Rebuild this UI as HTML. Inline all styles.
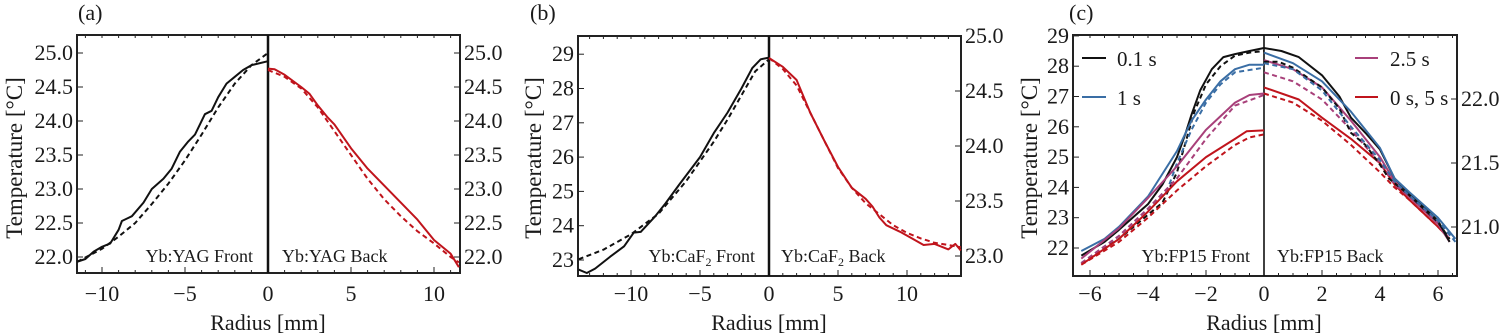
<!DOCTYPE html>
<html><head><meta charset="utf-8"><style>
html,body{margin:0;padding:0;background:#fff;width:1506px;height:335px;overflow:hidden}
svg{display:block}
text{font-family:"Liberation Serif",serif;fill:#1a1a1a}
</style></head><body>
<svg id="s" width="1506" height="335" viewBox="0 0 1506 335" xmlns="http://www.w3.org/2000/svg">
<g font-size="22">
<text x="78" y="20" font-size="22">(a)</text>
<text x="530" y="20" font-size="22">(b)</text>
<text x="1069" y="20" font-size="22">(c)</text>
<text transform="translate(22,158) rotate(-90)" text-anchor="middle" font-size="23">Temperature [°C]</text>
<text transform="translate(541,158) rotate(-90)" text-anchor="middle" font-size="23">Temperature [°C]</text>
<text transform="translate(1037,158) rotate(-90)" text-anchor="middle" font-size="23">Temperature [°C]</text>
<text x="268" y="330" text-anchor="middle">Radius [mm]</text>
<text x="769" y="330" text-anchor="middle">Radius [mm]</text>
<text x="1264" y="330" text-anchor="middle">Radius [mm]</text>
</g>
<g font-size="18">
<text x="253" y="262" text-anchor="end">Yb:YAG Front</text>
<text x="282" y="262">Yb:YAG Back</text>
<text x="755" y="262" text-anchor="end">Yb:CaF<tspan font-size="12" dy="4">2</tspan><tspan dy="-4"> Front</tspan></text>
<text x="781" y="262">Yb:CaF<tspan font-size="12" dy="4">2</tspan><tspan dy="-4"> Back</tspan></text>
<text x="1250" y="262" text-anchor="end">Yb:FP15 Front</text>
<text x="1277" y="262">Yb:FP15 Back</text>
</g>
<g font-size="21">
<line x1="1082" y1="58" x2="1106" y2="58" stroke="#111" stroke-width="2"/><text x="1117" y="66">0.1 s</text>
<line x1="1082" y1="97" x2="1106" y2="97" stroke="#3a6ea5" stroke-width="2"/><text x="1117" y="105">1 s</text>
<line x1="1355" y1="58" x2="1378" y2="58" stroke="#a8407a" stroke-width="2"/><text x="1390" y="66">2.5 s</text>
<line x1="1355" y1="97" x2="1378" y2="97" stroke="#c0141c" stroke-width="2"/><text x="1390" y="105">0 s, 5 s</text>
</g>
<g id="dyn"></g>
</svg>
<script>
var NS="http://www.w3.org/2000/svg",g=document.getElementById("dyn");
function el(t,a){var e=document.createElementNS(NS,t);for(var k in a)e.setAttribute(k,a[k]);g.appendChild(e);return e;}
function txt(x,y,s,anc){var e=el("text",{x:x,y:y,"font-size":22,"text-anchor":anc||"middle"});e.textContent=s;}
function panel(P){
 var X=function(r){return P.cx+r*P.sx;};
 el("rect",{x:P.x0,y:P.y0,width:P.x1-P.x0,height:P.y1-P.y0,fill:"none",stroke:"#222","stroke-width":2});
 P.xt.forEach(function(v){var x=X(v);el("line",{x1:x,y1:P.y1,x2:x,y2:P.y1-6,stroke:"#222","stroke-width":1});txt(x,301,(v<0?"\u2212"+(-v):""+v));});
 for(var v=Math.ceil((P.x0-P.cx)/P.sx);v<=(P.x1-P.cx)/P.sx;v+=P.xm){var x=X(v);el("line",{x1:x,y1:P.y1,x2:x,y2:P.y1-3,stroke:"#222"});el("line",{x1:x,y1:P.y0,x2:x,y2:P.y0+3,stroke:"#222"});}
 P.yl.forEach(function(t){var y=P.YL(t);el("line",{x1:P.x0,y1:y,x2:P.x0+6,y2:y,stroke:"#222"});txt(P.x0-4,y+7,P.yfmt(t),"end");});
 P.yr.forEach(function(t){var y=P.YR(t);el("line",{x1:P.x1,y1:y,x2:P.x1-6,y2:y,stroke:"#222"});txt(P.x1+4,y+7,t.toFixed(1),"start");});
 el("line",{x1:P.cx,y1:P.y0,x2:P.cx,y2:P.y1,stroke:"#111","stroke-width":P.cw});
 P.series.forEach(function(s){var Y=s.right?P.YR:P.YL;var d=s.p.map(function(q,i){return (i?"L":"M")+X(q[0]).toFixed(1)+","+Y(q[1]).toFixed(1);}).join("");
  var a={d:d,fill:"none",stroke:s.c,"stroke-width":2,"stroke-linejoin":"round"};if(s.dash)a["stroke-dasharray"]="5,3.5";el("path",a);});
}
var K="#111",B="#3a6ea5",M="#a8407a",R="#c0141c";
panel({x0:77,x1:460,y0:35,y1:273,cx:268,sx:16.6,cw:2.5,xt:[-10,-5,0,5,10],xm:1,
 YL:function(t){return 257-(t-22)*68;},YR:function(t){return 257-(t-22)*68;},
 yl:[22,22.5,23,23.5,24,24.5,25],yr:[22,22.5,23,23.5,24,24.5,25],yfmt:function(t){return t.toFixed(1);},
 series:[
 {c:K,p:[[-11.5,21.93],[-11,21.97],[-10.5,22.08],[-10,22.15],[-9.5,22.2],[-9,22.4],[-8.8,22.53],[-8.2,22.6],[-7.5,22.8],[-7,23.0],[-6.3,23.15],[-5.8,23.3],[-5.3,23.55],[-4.8,23.7],[-4.4,23.8],[-3.8,24.1],[-3.4,24.15],[-3,24.35],[-2.5,24.55],[-2,24.65],[-1.5,24.75],[-1,24.82],[0,24.88]]},
 {c:K,dash:1,p:[[-11.5,21.93],[-10,22.12],[-9,22.3],[-8,22.5],[-7,22.78],[-6,23.08],[-5,23.42],[-4,23.8],[-3,24.2],[-2,24.55],[-1,24.82],[0,25.0]]},
 {c:R,right:1,p:[[0,24.77],[0.4,24.76],[1,24.68],[2,24.5],[2.5,24.4],[3,24.23],[3.6,24.05],[4,23.95],[5,23.6],[6,23.3],[7,23.05],[8,22.8],[9,22.55],[10,22.25],[11,22.05],[11.5,21.85]]},
 {c:R,dash:1,right:1,p:[[0,24.75],[1,24.65],[2,24.48],[3,24.2],[4,23.85],[5,23.5],[6,23.15],[7,22.85],[8,22.6],[9,22.38],[10,22.2],[11,22.0],[11.5,21.92]]}
 ]});
panel({x0:578,x1:961,y0:36,y1:276,cx:769,sx:13.8,cw:2.5,xt:[-10,-5,0,5,10],xm:1,
 YL:function(t){return 260-(t-23)*34.3;},YR:function(t){return 256-(t-23)*110;},
 yl:[23,24,25,26,27,28,29],yr:[23,23.5,24,24.5,25],yfmt:function(t){return ""+t;},
 series:[
 {c:K,p:[[-13.8,22.72],[-13.2,22.62],[-12.6,22.75],[-11.5,23.1],[-10.5,23.4],[-9.8,23.8],[-9.3,23.82],[-8.3,24.25],[-7.5,24.65],[-6.5,25.2],[-5,26.0],[-4,26.7],[-3,27.3],[-2,28.0],[-1.2,28.6],[-0.6,28.85],[0,28.9]]},
 {c:K,dash:1,p:[[-13.8,23.02],[-12,23.3],[-10,23.75],[-8,24.35],[-6,25.3],[-4,26.45],[-3,27.1],[-2,27.8],[-1,28.5],[0,28.85]]},
 {c:R,right:1,p:[[0,24.8],[1,24.72],[2,24.6],[3,24.3],[4,24.05],[5,23.81],[6,23.62],[7,23.52],[7.5,23.45],[8,23.35],[8.5,23.28],[9.5,23.22],[10.5,23.15],[11.2,23.1],[12,23.11],[13,23.06],[13.5,23.11],[13.9,23.05]]},
 {c:R,dash:1,right:1,p:[[0,24.8],[1,24.7],[2,24.55],[3,24.3],[4,24.05],[5,23.8],[6,23.62],[7,23.48],[8,23.38],[9,23.28],[10,23.21],[11,23.16],[12,23.12],[13,23.1],[13.9,23.08]]}
 ]});
panel({x0:1073,x1:1457,y0:35,y1:276,cx:1264,sx:29,cw:1.6,xt:[-6,-4,-2,0,2,4,6],xm:0.5,
 YL:function(t){return 248-(t-22)*30.3;},YR:function(t){return 99+(22-t)*128;},
 yl:[22,23,24,25,26,27,28,29],yr:[21,21.5,22],yfmt:function(t){return ""+t;},
 series:[
 {c:K,p:[[-6.3,21.75],[-5.5,22.2],[-5,22.6],[-4,23.45],[-3.5,24.1],[-3,25.0],[-2.7,25.8],[-2.5,26.4],[-2.2,27.2],[-1.8,27.9],[-1.4,28.3],[-1,28.4],[-0.5,28.5],[0,28.6]]},
 {c:K,dash:1,p:[[-6.3,21.5],[-5,22.3],[-4,23.1],[-3.5,23.5],[-3,24.5],[-2.7,25.5],[-2.4,26.5],[-2,27.4],[-1.5,28.0],[-1,28.35],[-0.5,28.45],[0,28.5]]},
 {c:B,p:[[-6.3,21.9],[-5.5,22.3],[-5,22.7],[-4,23.7],[-3,25.2],[-2.5,26.2],[-2,26.9],[-1.5,27.5],[-1,27.9],[-0.5,28.05],[0,28.05]]},
 {c:B,dash:1,p:[[-6.3,21.5],[-5,22.4],[-4,23.3],[-3.3,24.0],[-3,24.8],[-2.5,25.9],[-2,26.8],[-1.5,27.4],[-1,27.8],[0,27.95]]},
 {c:M,p:[[-6.3,21.65],[-5,22.65],[-4,23.65],[-3,24.7],[-2,25.9],[-1,26.8],[-0.5,27.05],[0,27.1]]},
 {c:M,dash:1,p:[[-6.3,21.5],[-5,22.4],[-4,23.3],[-3,24.3],[-2,25.6],[-1,26.7],[0,27.05]]},
 {c:R,p:[[-6.3,21.45],[-5,22.3],[-4,23.2],[-3,24.2],[-2,25.0],[-1,25.6],[-0.6,25.85],[0,25.88]]},
 {c:R,dash:1,p:[[-6.3,21.45],[-5,22.2],[-4,23.0],[-3,23.9],[-2,24.7],[-1,25.4],[-0.5,25.65],[0,25.75]]},
 {c:R,p:[[0,27.3],[1.2,26.9],[2,26.3],[3,25.6],[4,24.8],[4.5,24.1],[5,23.6],[6,22.7],[6.4,22.3]]},
 {c:R,dash:1,p:[[0,27.1],[1,26.8],[2,26.2],[3,25.4],[4,24.5],[4.5,24.0],[5,23.6],[6,22.7],[6.4,22.3]]},
 {c:M,p:[[0,28.2],[1,27.9],[2,27.3],[3,26.2],[4,25.0],[4.5,24.2],[5,23.7],[6,22.8],[6.4,22.2]]},
 {c:M,dash:1,p:[[0,27.8],[1,27.5],[2,26.9],[3,25.9],[4,24.8],[4.5,24.1],[5,23.7],[6,22.8],[6.4,22.3]]},
 {c:K,dash:1,p:[[0,28.15],[0.5,28.15],[1,27.95],[2,27.3],[2.6,26.6],[3,25.8],[3.5,25.4],[4,24.75],[4.3,24.3],[5,23.75],[6,22.85],[6.4,22.3]]},
 {c:K,p:[[0,28.6],[0.6,28.5],[1.2,28.3],[2,27.7],[2.6,27.0],[3,26.3],[3.5,25.8],[4,25.25],[4.5,24.3],[5,23.8],[6,22.9],[6.4,22.2]]},
 {c:B,dash:1,p:[[0,28.1],[1,27.9],[2,27.2],[3,26.0],[4,24.9],[4.5,24.2],[5,23.75],[6,22.9],[6.6,22.2]]},
 {c:B,p:[[0,28.45],[1,28.1],[2,27.5],[3,26.5],[4,25.3],[4.5,24.3],[5,23.85],[6,23.0],[6.6,22.3]]}
 ]});
</script>
</body></html>
